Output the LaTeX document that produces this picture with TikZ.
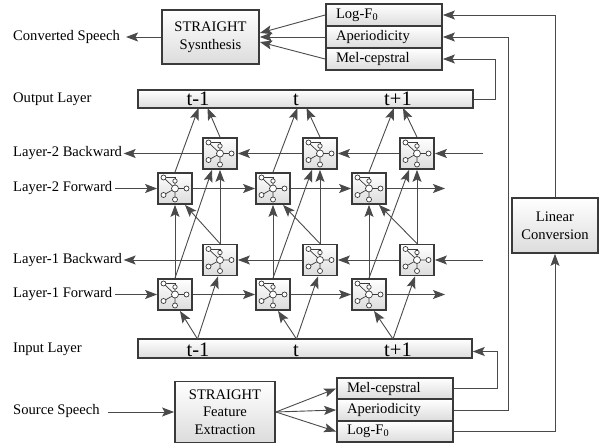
\documentclass[tikz,border=0pt]{standalone}
\usepackage{fontspec}
\setmainfont{Liberation Serif}
\usetikzlibrary{arrows.meta,calc}
\definecolor{bordc}{HTML}{3A3A3A}
\definecolor{linec}{HTML}{4A4A4A}
\definecolor{fillc}{HTML}{DCDCDC}
\newcommand\myfs{\fontsize{14.6}{17.5}\selectfont}
\newcommand\bigfs{\fontsize{20.5}{22}\selectfont}
\tikzset{
  box/.style={draw=bordc, line width=1.8pt, top color=white, bottom color=fillc, inner sep=0pt, align=center, font=\myfs},
  bar/.style={draw=bordc, line width=1.5pt, top color=white, bottom color=fillc, inner sep=0pt},
  stk/.style={draw=bordc, line width=1.8pt, top color=white, bottom color=fillc, minimum width=116pt, text width=96pt, inner xsep=10pt, inner ysep=0pt, align=left, font=\myfs},
  cell/.style={draw=bordc, line width=1.8pt, top color=white, bottom color=fillc, minimum width=34pt, minimum height=31pt, inner sep=0pt},
  lbl/.style={anchor=west, font=\myfs, inner sep=0pt},
  tlab/.style={anchor=base, font=\bigfs, inner sep=0pt},
  conn/.style={draw=linec, line width=0.9pt},
  arr/.style={conn, -{Stealth[length=12pt,width=9pt,inset=2.5pt]}},
  icon/.pic={
    \draw[bordc, line width=0.7pt] (-11.5,-11) -- (0,-11) -- (0,-7.5);
    \draw[bordc, line width=0.7pt] (-11.5,-11) -- (0,0) (0,-7.5) -- (0,0) (-11.5,6.5) -- (0,0) (0,0) -- (11.5,0) (0,0) -- (0,11);
    \draw[bordc, line width=0.7pt, fill=white] (-11.5,-11) circle[radius=2.5pt] (0,-7.5) circle[radius=2.2pt] (0,0) circle[radius=3.5pt] (11.5,0) circle[radius=2.5pt] (-11.5,6.5) circle[radius=2.5pt] (0,11) circle[radius=2.5pt];
  }
}
\begin{document}
\begin{tikzpicture}[x=1pt,y=-1pt]
\useasboundingbox (0,0) rectangle (606,444);

% left labels
\node[lbl] (lcs) at (13,37) {Converted Speech};
\node[lbl] (lol) at (13,99) {Output Layer};
\node[lbl] (l2b) at (13,153.5) {Layer-2 Backward};
\node[lbl] (l2f) at (13,188.5) {Layer-2 Forward};
\node[lbl] (l1b) at (13,260) {Layer-1 Backward};
\node[lbl] (l1f) at (13,294.5) {Layer-1 Forward};
\node[lbl] (lil) at (13,349) {Input Layer};
\node[lbl] (lss) at (13,411) {Source Speech};

% main boxes
\node[box, minimum width=97pt, minimum height=54pt] (syn) at (210.5,37) {STRAIGHT\\Sysnthesis};
\node[box, minimum width=100pt, minimum height=61pt] (fex) at (225,412) {STRAIGHT\\Feature\\Extraction};
\node[box, minimum width=86pt, minimum height=55pt] (lin) at (555,225.5) {Linear\\Conversion};

% layer bars
\node[bar, minimum width=335pt, minimum height=18pt] (outl) at (305.5,99) {};
\node[bar, minimum width=334pt, minimum height=19pt] (inl) at (305,348.5) {};
\node[tlab] (ot1) at (198,106) {t-1};
\node[tlab] (ot2) at (296,106) {t};
\node[tlab] (ot3) at (398,106) {t+1};
\node[tlab] (it1) at (198,356) {t-1};
\node[tlab] (it2) at (296,356) {t};
\node[tlab] (it3) at (398,356) {t+1};

% feature stacks
\node[stk, minimum height=22pt] (logt) at (384,15) {Log-F\textsubscript{0}};
\node[stk, minimum height=22pt] (apt) at (384,37) {Aperiodicity};
\node[stk, minimum height=22pt] (melt) at (384,59) {Mel-cepstral};
\node[stk, minimum height=21.5pt] (mels) at (395,388.5) {Mel-cepstral};
\node[stk, minimum height=21.5pt] (aps) at (395,410) {Aperiodicity};
\node[stk, minimum height=21.5pt] (logs) at (395,431.5) {Log-F\textsubscript{0}};

% cells
\foreach \c/\fx/\bx/\m in {a/175/220/197.5, b/273/320/296.5, c/369/417/393} {
  \node[cell] (b2\c) at (\bx,153.5) {};
  \node[cell] (f2\c) at (\fx,188.5) {};
  \node[cell] (b1\c) at (\bx,260) {};
  \node[cell] (f1\c) at (\fx,294.5) {};
  \pic at (b2\c.center) {icon};
  \pic at (f2\c.center) {icon};
  \pic at (b1\c.center) {icon};
  \pic at (f1\c.center) {icon};
  \coordinate (oF\c) at (\m+1,108);
  \coordinate (oB\c) at (\m+10,108);
  \coordinate (ip\c) at (\m,339);
  \draw[arr] (f1\c.north) -- (f2\c.south);
  \draw[arr] (b1\c.north) -- (b2\c.south);
  \draw[arr] (f1\c.north) -- ($(b2\c.south)+(-8,0)$);
  \draw[arr] (b1\c.north) -- ($(f2\c.south)+(10,0)$);
  \draw[arr] (f2\c.north) -- (oF\c);
  \draw[arr] (b2\c.north) -- (oB\c);
  \draw[arr] (ip\c) -- ($(f1\c.south)+(5,0)$);
  \draw[arr] (ip\c) -- ($(b1\c.south)+(-2,0)$);
}

% horizontal recurrent arrows
\coordinate (r2b) at (483,153.5);
\coordinate (r1b) at (483,260);
\coordinate (e2f) at (445,188.5);
\coordinate (e1f) at (445,294.5);
\draw[arr] (r2b) -- (b2c);
\draw[arr] (b2c) -- (b2b);
\draw[arr] (b2b) -- (b2a);
\draw[arr, shorten >=1.5pt] (b2a) -- (b2a -| l2b.east);
\draw[arr, shorten <=3pt] (f2a -| l2f.east) -- (f2a);
\draw[arr] (f2a) -- (f2b);
\draw[arr] (f2b) -- (f2c);
\draw[arr] (f2c) -- (e2f);
\draw[arr] (r1b) -- (b1c);
\draw[arr] (b1c) -- (b1b);
\draw[arr] (b1b) -- (b1a);
\draw[arr, shorten >=1.5pt] (b1a) -- (b1a -| l1b.east);
\draw[arr, shorten <=3pt] (f1a -| l1f.east) -- (f1a);
\draw[arr] (f1a) -- (f1b);
\draw[arr] (f1b) -- (f1c);
\draw[arr] (f1c) -- (e1f);

% synthesis side
\draw[arr, shorten >=6pt] (syn.west) -- (syn.west -| lcs.east);
\draw[arr] (logt.west) -- ($(syn.east)+(0,-4)$);
\draw[arr] (apt.west) -- (syn.east);
\draw[arr] (melt.west) -- ($(syn.east)+(0,5)$);

% extraction side
\draw[arr, shorten <=8pt] (fex.west -| lss.east) -- (fex.west);
\draw[arr] (fex.east) -- (mels.west);
\draw[arr] (fex.east) -- (aps.west);
\draw[arr] (fex.east) -- (logs.west);

% routing on the right
\draw[arr] (outl.east) -- ++(22,0) |- (melt.east);
\draw[arr] (aps.east) -- ++(55,0) |- (apt.east);
\draw[arr] (logs.east) -| (lin.south);
\draw[arr] (lin.north) |- (logt.east);
\draw[arr] (mels.east) -- ++(44,0) |- ($(inl.east)+(0,3)$);
\end{tikzpicture}
\end{document}
